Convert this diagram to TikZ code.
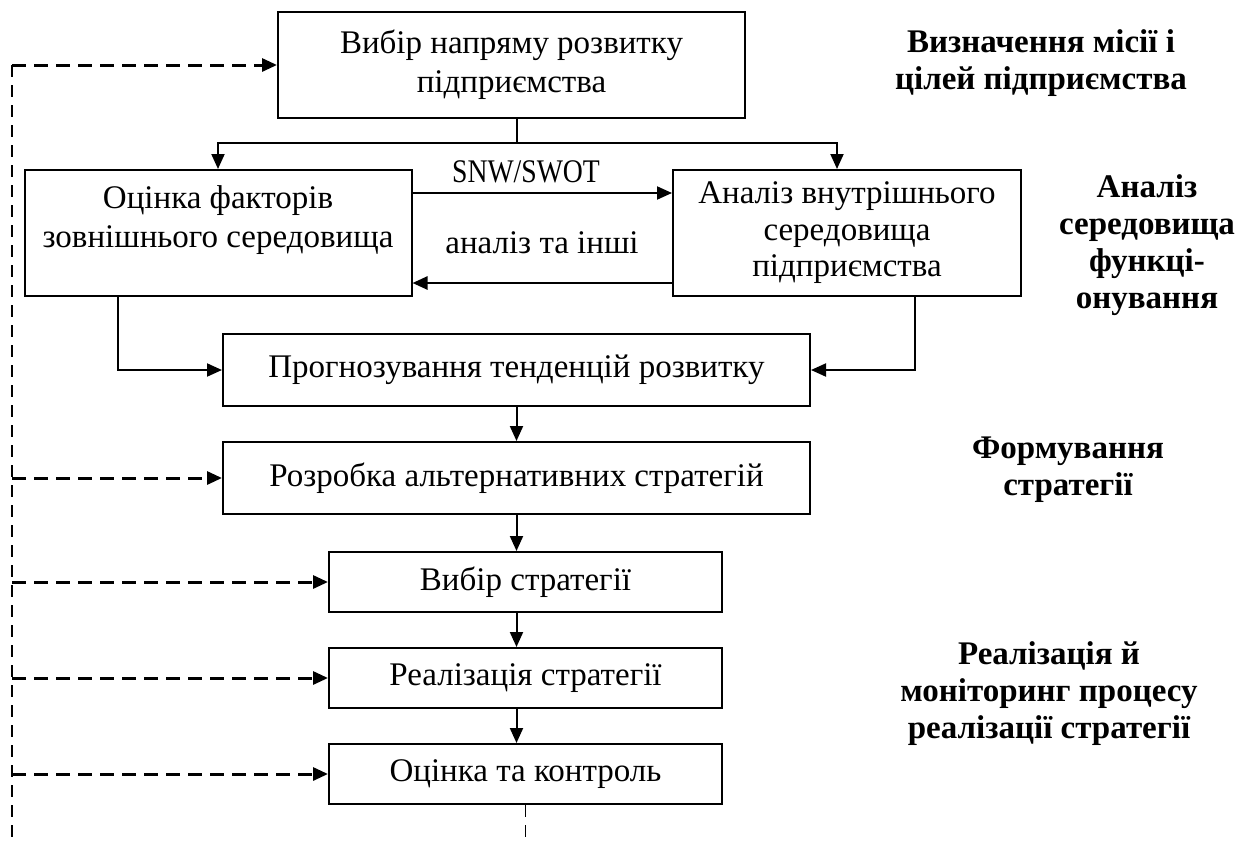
\documentclass[tikz,border=0pt]{standalone}
\usepackage{fontspec}
\setmainfont{Liberation Serif}
\usepackage{graphicx}
\usetikzlibrary{arrows.meta}

\tikzset{
  blok/.style={draw, line width=2pt, rectangle, align=center, inner sep=4pt},
  arr/.style={line width=2pt, -{Triangle[length=15pt,width=13pt]}},
  fb/.style={line width=3pt, dash pattern=on 14pt off 8pt, -{Triangle[length=15pt,width=13pt]}},
  fbline/.style={line width=1.5pt, dash pattern=on 12pt off 8pt},
  etap/.style={align=center, font=\fontsize{33}{37}\selectfont\bfseries}
}

\begin{document}
\begin{tikzpicture}[x=1pt, y=-1pt, font=\fontsize{33}{39}\selectfont]
\useasboundingbox (0,0) rectangle (1241,841);

% -------- boxes -----------
\node[blok, minimum width=467pt, minimum height=106pt] (napr) at (511.5,65) {Вибір напряму розвитку\\підприємства};
\node[blok, minimum width=387pt, minimum height=126pt, text height=62pt, text depth=34pt] (zovn) at (218,233) {Оцінка факторів\\зовнішнього середовища};
\node[blok, minimum width=348pt, minimum height=126pt, font=\fontsize{33}{36.5}\selectfont] (vnutr) at (847,233) {Аналіз внутрішнього\\середовища\\підприємства};
\node[blok, minimum width=587pt, minimum height=72pt] (prog) at (516.5,370) {Прогнозування тенденцій розвитку};
\node[blok, minimum width=587pt, minimum height=72pt] (rozr) at (516.5,478) {Розробка альтернативних стратегій};
\node[blok, minimum width=393pt, minimum height=60pt] (vybir) at (525.5,582) {Вибір стратегії};
\node[blok, minimum width=393pt, minimum height=60pt] (real) at (525.5,678) {Реалізація стратегії};
\node[blok, minimum width=393pt, minimum height=60pt] (kontr) at (525.5,774) {Оцінка та контроль};

\node (swot) at (526,172) {\scalebox{0.84}[1]{SNW/SWOT}};
\node (inshi) at (542,243) {аналіз та інші};

% -------- stages -----------
\node[etap] (misiya) at (1041,63) {Визначення місії і\\цілей підприємства};
\node[etap] (seredov) at (1147,245) {Аналіз\\середовища\\функці-\\онування};
\node[etap] (formuv) at (1068,470) {Формування\\стратегії};
\node[etap] (realiz) at (1049,694) {Реалізація й\\моніторинг процесу\\реалізації стратегії};

% -------- arrows -----------
\coordinate (split) at (517,143);
\draw[line width=2pt] (split |- napr.south) -- (split);
\draw[arr] (split) -| (zovn.north);
\draw[arr] (split) -| ([xshift=-10pt]vnutr.north);

\draw[arr] ([yshift=40pt]zovn.east) -- ([yshift=40pt]vnutr.west);
\draw[arr, line width=2.5pt] ([yshift=-50pt]vnutr.west) -- ([yshift=-50pt]zovn.east);

\draw[arr] ([xshift=-100pt]zovn.south) |- (prog.west);
\draw[arr] ([xshift=68pt]vnutr.south) |- (prog.east);

\draw[arr] (prog.south) -- (rozr.north);
\draw[arr] (rozr.south) -- (rozr.south |- vybir.north);
\draw[arr] (vybir.south -| rozr.south) -- (real.north -| rozr.south);
\draw[arr] (real.south -| rozr.south) -- (kontr.north -| rozr.south);

% -------- feedback -----------
\coordinate (fbtop) at (12,65);
\coordinate (fbbot) at (12,841);
\draw[fbline] (fbtop) -- (fbbot);
\foreach \n in {napr,rozr,vybir,real,kontr}
  \draw[fb] (fbtop |- \n.west) -- (\n.west);
\draw[fbline] (kontr.south) -- (kontr.south |- fbbot);
\end{tikzpicture}
\end{document}
